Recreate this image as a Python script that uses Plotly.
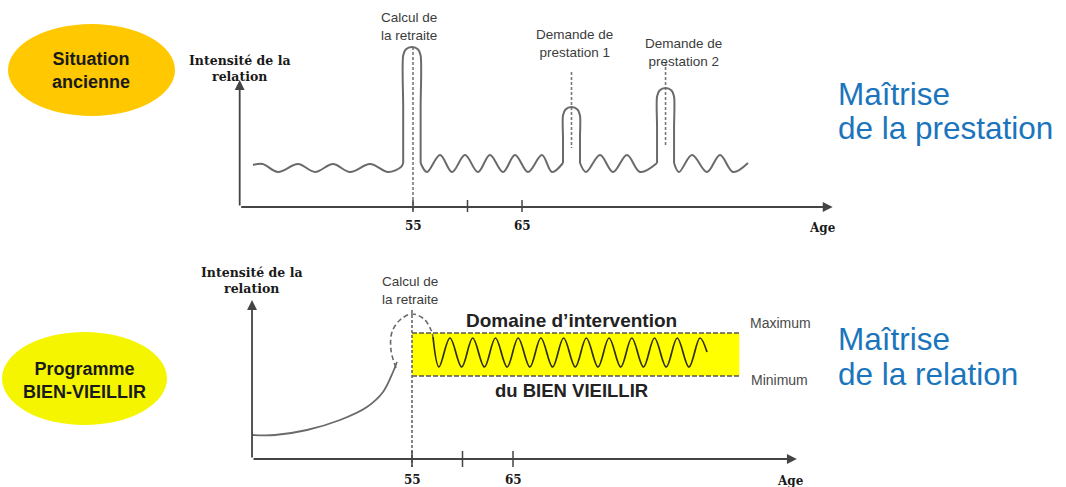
import plotly.graph_objects as go

W, H = 1066, 487

# ---------------- data ----------------
# Top panel: "Situation ancienne"  (x = age, y = intensité de la relation)
top_axis_age = [39.1, 93.5]
top_axis_max = 12.7
top_ticks = [55, 60, 65]
top_tick_labels = ["55", "", "65"]

# background wave of the relation, between the peaks
top_wave_age = [
    [40.32, 41.2, 42.61, 44.45, 46.01, 47.66, 49.22, 51.06, 52.71, 53.9, 54.1],
    [55.7, 56.28, 57.48, 58.58, 59.77, 60.96, 62.06, 63.26, 64.36, 65.55, 66.83, 67.75, 68.76],
    [70.32, 70.87, 72.16, 73.35, 74.63, 75.83, 77.39],
    [78.95, 79.40, 80.60, 81.97, 83.17, 84.36, 85.73],
]
top_wave_val = [
    [4.2, 4.3, 3.5, 4.3, 3.5, 4.3, 3.5, 4.3, 3.5, 4.0, 4.4],
    [4.4, 3.5, 5.2, 3.5, 5.2, 3.5, 5.2, 3.5, 5.2, 3.5, 5.2, 3.5, 4.4],
    [4.4, 3.5, 5.2, 3.5, 5.2, 3.5, 4.4],
    [4.4, 3.5, 5.2, 3.5, 5.2, 3.5, 4.4],
]
# the three peaks (calcul de la retraite, demande de prestation 1 & 2)
top_peak_age = [
    [54.1, 54.1, 54.1, 54.33, 54.9, 55.47, 55.7, 55.7, 55.7],
    [68.76, 68.76, 68.76, 68.99, 69.54, 70.09, 70.32, 70.32, 70.32],
    [77.39, 77.39, 77.39, 77.62, 78.17, 78.72, 78.95, 78.95, 78.95],
]
top_peak_val = [
    [4.4, 10.0, 15.15, 15.75, 16.0, 15.75, 15.15, 10.0, 4.4],
    [4.4, 7.0, 9.15, 9.75, 10.0, 9.75, 9.15, 7.0, 4.4],
    [4.4, 8.0, 11.05, 11.65, 11.9, 11.65, 11.05, 8.0, 4.4],
]

top_events = ["Calcul de<br>la retraite", "Demande de<br>prestation 1", "Demande de<br>prestation 2"]
top_event_age = [55.0, 69.54, 78.17]
top_event_dash_from = [16.0, 13.5, 14.5]
top_event_dash_to = [-0.3, 5.9, 6.0]
top_event_label_age = [54.63, 69.86, 79.86]
top_event_label_val = [18.1, 16.4, 15.5]

# Bottom panel: "Programme BIEN-VIEILLIR"
bot_axis_age = [39.16, 93.1]
bot_axis_max = 15.9
bot_ticks = [55, 60, 65]
bot_tick_labels = ["55", "", "65"]

bot_rise_age = [39.16, 41.44, 44.60, 47.87, 50.54, 52.13, 53.12, 53.51]
bot_rise_val = [2.4, 2.4, 2.9, 3.9, 5.2, 6.7, 8.7, 9.7]

bot_arc_age = [53.42, 52.92, 53.02, 53.81, 55.0, 56.19, 56.88, 57.08]
bot_arc_val = [9.1, 10.9, 12.7, 13.9, 14.5, 14.0, 12.9, 12.2]

bot_wave_age = [57.08, 57.67, 58.76, 59.92, 61.01, 62.17, 63.26, 64.42, 65.51, 66.67,
                67.76, 68.92, 70.01, 71.17, 72.26, 73.42, 74.51, 75.67, 76.76, 77.92,
                79.01, 80.17, 81.26, 82.42, 83.51, 84.21]
bot_wave_val = [12.2, 9.2, 12.1, 9.2, 12.1, 9.2, 12.1, 9.2, 12.1, 9.2,
                12.1, 9.2, 12.1, 9.2, 12.1, 9.2, 12.1, 9.2, 12.1, 9.2,
                12.1, 9.2, 12.1, 9.2, 12.1, 10.7]

domain_age = [55.0, 87.4]          # "Domaine d'intervention du BIEN VIEILLIR"
domain_val = [8.3, 12.6]           # Minimum, Maximum
bot_vline_val = [14.9, -0.8]

# ---------------- layout helpers ----------------
def pxx(p):
    return p / W


def pxy(p):
    return 1 - p / H


# pixel scales of the two panels
TOP_X55, TOP_PPY = 413.0, 10.9
TOP_Y0, TOP_PPU = 207.0, 10.0
BOT_X55, BOT_PPY = 412.0, 10.1
BOT_Y0, BOT_PPU = 459.0, 10.0
SPLIT = 243.5

GRAY = "#6a6a6a"
SANS = "Arial, Liberation Sans, sans-serif"
SERIF = "DejaVu Serif, serif"

fig = go.Figure()


def seg_trace(xs_list, ys_list, xa, ya, color, width, dash="solid"):
    xs, ys = [], []
    for xx, yy in zip(xs_list, ys_list):
        xs += list(xx) + [None]
        ys += list(yy) + [None]
    fig.add_trace(go.Scatter(x=xs, y=ys, mode="lines", xaxis=xa, yaxis=ya,
                             line=dict(color=color, width=width, dash=dash),
                             hoverinfo="skip", showlegend=False))


def curve(x, y, xa, ya, color, width, dash="solid", smoothing=1.0):
    fig.add_trace(go.Scatter(x=x, y=y, mode="lines", xaxis=xa, yaxis=ya,
                             line=dict(color=color, width=width, shape="spline",
                                       smoothing=smoothing, dash=dash),
                             hoverinfo="skip", showlegend=False))


# ---- top panel ----
seg_trace([[a, a] for a in top_event_age],
          [[f, t] for f, t in zip(top_event_dash_from, top_event_dash_to)],
          "x", "y", "#777777", 1.6, "3px,2px")
for xs, ys in zip(top_wave_age, top_wave_val):
    curve(xs, ys, "x", "y", GRAY, 2)
for xs, ys in zip(top_peak_age, top_peak_val):
    curve(xs, ys, "x", "y", GRAY, 2, smoothing=0.8)
seg_trace([[t, t] for t in top_ticks], [[-0.5, 0.7] for _ in top_ticks],
          "x", "y", "#444444", 1.5)

# ---- bottom panel ----
fig.add_trace(go.Scatter(
    x=[domain_age[0], domain_age[1], domain_age[1], domain_age[0], domain_age[0]],
    y=[domain_val[0], domain_val[0], domain_val[1], domain_val[1], domain_val[0]],
    mode="lines", fill="toself", fillcolor="#FFFF00", line=dict(width=0),
    xaxis="x2", yaxis="y2", hoverinfo="skip", showlegend=False))
seg_trace([domain_age, domain_age], [[domain_val[1]] * 2, [domain_val[0]] * 2],
          "x2", "y2", "#555555", 1.6, "5px,2px")
seg_trace([[domain_age[0], domain_age[0]]], [bot_vline_val],
          "x2", "y2", "#666666", 1.6, "3px,2px")
curve(bot_rise_age, bot_rise_val, "x2", "y2", GRAY, 1.8)
curve(bot_arc_age, bot_arc_val, "x2", "y2", GRAY, 1.6, dash="5px,3px")
curve(bot_wave_age, bot_wave_val, "x2", "y2", "#2f2f10", 1.7)
seg_trace([[t, t] for t in bot_ticks], [[-0.8, 0.8] for _ in bot_ticks],
          "x2", "y2", "#444444", 1.5)

annotations = []


def arrow(x0, y0, x1, y1, xr, yr):
    annotations.append(dict(x=x1, y=y1, ax=x0, ay=y0, xref=xr, yref=yr, axref=xr, ayref=yr,
                            text="", showarrow=True, arrowhead=2, arrowsize=1.1,
                            arrowwidth=1.8, arrowcolor="#444444", standoff=0, startstandoff=0))


arrow(top_axis_age[0], 0, top_axis_age[0], top_axis_max, "x", "y")
arrow(top_axis_age[0], 0, top_axis_age[1], 0, "x", "y")
arrow(bot_axis_age[0], 0, bot_axis_age[0], bot_axis_max, "x2", "y2")
arrow(bot_axis_age[0], 0, bot_axis_age[1], 0, "x2", "y2")


def text(t, x, y, xr, yr, size, color="#222222", family=SANS, bold=False,
         xanchor="center", yanchor="middle", align="center"):
    if bold:
        t = "<b>" + t.replace("<br>", "</b><br><b>") + "</b>"
    annotations.append(dict(text=t, x=x, y=y, xref=xr, yref=yr, showarrow=False,
                            xanchor=xanchor, yanchor=yanchor, align=align,
                            font=dict(size=size, color=color, family=family)))


# top panel texts
text("Intensité de la<br>relation", top_axis_age[0], 13.85, "x", "y", 12.5, "#1a1a1a", SERIF, True)
for lab, a, v in zip(top_events, top_event_label_age, top_event_label_val):
    text(lab, a, v, "x", "y", 13.5, "#3c3c3c")
for lab, t in zip(top_tick_labels, top_ticks):
    if lab:
        text(lab, t, -1.9, "x", "y", 12, "#1a1a1a", SERIF, True)
text("Age", 92.6, -2.1, "x", "y", 12, "#1a1a1a", SERIF, True)

# bottom panel texts
text("Intensité de la<br>relation", bot_axis_age[0], 17.85, "x2", "y2", 12.5, "#1a1a1a", SERIF, True)
text("Calcul de<br>la retraite", 54.8, 16.85, "x2", "y2", 13.5, "#3c3c3c")
for lab, t in zip(bot_tick_labels, bot_ticks):
    if lab:
        text(lab, t, -2.1, "x2", "y2", 12, "#1a1a1a", SERIF, True)
text("Age", 92.5, -2.2, "x2", "y2", 12, "#1a1a1a", SERIF, True)
text("Domaine d’intervention", 70.84, 13.9, "x2", "y2", 19, "#222222", SANS, True)
text("du BIEN VIEILLIR", 70.84, 6.9, "x2", "y2", 18.5, "#222222", SANS, True)
text("Maximum", 91.53, 13.6, "x2", "y2", 14, "#4a4a4a")
text("Minimum", 91.34, 7.9, "x2", "y2", 14, "#4a4a4a")

# side labels (paper)
BLUE = "#1b75bc"
text("Maîtrise", pxx(836), pxy(94), "paper", "paper", 31.5, BLUE, SANS, xanchor="left")
text("de la prestation", pxx(836), pxy(128), "paper", "paper", 31.5, BLUE, SANS, xanchor="left")
text("Maîtrise", pxx(836), pxy(339), "paper", "paper", 31.5, BLUE, SANS, xanchor="left")
text("de la relation", pxx(836), pxy(374), "paper", "paper", 31.5, BLUE, SANS, xanchor="left")

text("Situation<br>ancienne", pxx(91), pxy(70), "paper", "paper", 18, "#1a1a1a", SANS, True)
text("Programme<br>BIEN-VIEILLIR", pxx(84), pxy(380), "paper", "paper", 18, "#1a1a1a", SANS, True)

shapes = [
    dict(type="circle", xref="paper", yref="paper", x0=pxx(8), x1=pxx(175),
         y0=pxy(116), y1=pxy(24), fillcolor="#FFC800", line=dict(width=0), layer="below"),
    dict(type="circle", xref="paper", yref="paper", x0=pxx(2), x1=pxx(167),
         y0=pxy(425), y1=pxy(332), fillcolor="#F5F500", line=dict(width=0), layer="below"),
]

ax_common = dict(visible=False, showgrid=False, zeroline=False, fixedrange=True)
fig.update_layout(
    width=W, height=H, autosize=False,
    margin=dict(l=0, r=0, t=0, b=0),
    paper_bgcolor="white", plot_bgcolor="rgba(0,0,0,0)",
    showlegend=False,
    xaxis=dict(ax_common, domain=[0, 1], anchor="y",
               range=[55 - TOP_X55 / TOP_PPY, 55 + (W - TOP_X55) / TOP_PPY]),
    yaxis=dict(ax_common, domain=[1 - SPLIT / H, 1], anchor="x",
               range=[(TOP_Y0 - SPLIT) / TOP_PPU, TOP_Y0 / TOP_PPU]),
    xaxis2=dict(ax_common, domain=[0, 1], anchor="y2",
                range=[55 - BOT_X55 / BOT_PPY, 55 + (W - BOT_X55) / BOT_PPY]),
    yaxis2=dict(ax_common, domain=[0, 1 - SPLIT / H], anchor="x2",
                range=[(BOT_Y0 - H) / BOT_PPU, (BOT_Y0 - SPLIT) / BOT_PPU]),
    annotations=annotations,
    shapes=shapes,
)

fig.write_html("out.html", config={"displayModeBar": False},
               post_script="document.body.style.margin='0';document.body.style.overflow='hidden';")
